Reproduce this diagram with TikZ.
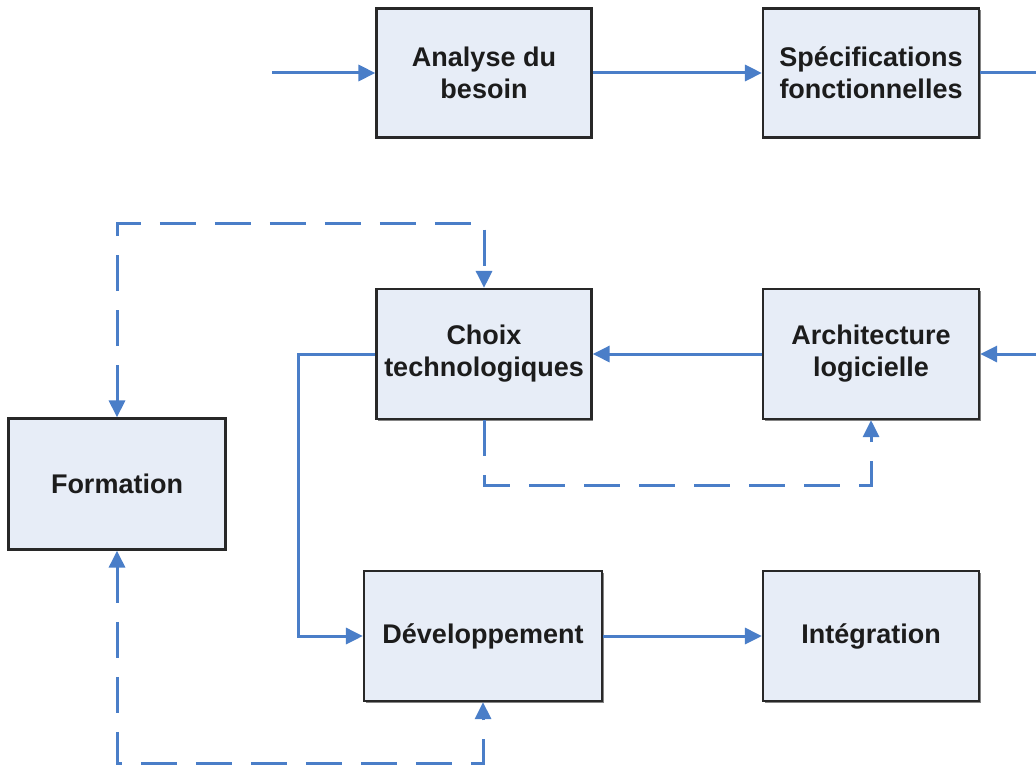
\documentclass[tikz,border=0pt]{standalone}
\usepackage{fontspec}
\setmainfont{Liberation Sans}
\usetikzlibrary{arrows.meta,shadows}
\definecolor{flow}{RGB}{74,126,200}
\definecolor{boxfill}{RGB}{231,237,247}
\definecolor{boxline}{RGB}{40,40,40}
\definecolor{txt}{RGB}{28,28,28}

\begin{document}
\begin{tikzpicture}[x=1pt,y=-1pt,
  stage/.style={draw=boxline, line width=2.2pt, fill=boxfill,
    minimum width=215pt, minimum height=129pt, inner sep=0pt,
    align=center, text=txt, font=\bfseries\fontsize{27}{32}\selectfont,
    drop shadow={shadow xshift=1.6pt, shadow yshift=-1.6pt, fill=black!60, opacity=.8}},
  tip/.tip={Triangle[length=17pt,width=16pt]},
  flowline/.style={draw=flow, line width=3pt, -tip},
  backline/.style={draw=flow, line width=3pt, dash pattern=on 36pt off 19pt, tip-tip},
  oneback/.style={draw=flow, line width=3pt, dash pattern=on 36pt off 19pt, -tip}
]
\useasboundingbox (0,0) rectangle (1036,765);

% stages
\node[stage] (analyse) at (484,73) {Analyse du\\besoin};
\node[stage, minimum width=216pt] (specs) at (871,73) {Spécifications\\fonctionnelles};
\node[stage, minimum height=130pt] (choix) at (484,354) {Choix\\technologiques};
\node[stage, minimum width=216pt, minimum height=130pt] (archi) at (871,354) {Architecture\\logicielle};
\node[stage, minimum width=217pt, minimum height=131pt] (formation) at (117,484) {Formation};
\node[stage, minimum width=238pt, minimum height=130pt] (dev) at (483,636) {Développement};
\node[stage, minimum width=216pt, minimum height=130pt] (integ) at (871,636) {Intégration};

% loose ends entering and leaving the chain
\coordinate (entree) at (272,73);
\coordinate (sortie) at (1036,73);
\coordinate (retour) at (1036,354);

% main flow
\draw[flowline] (entree) -- (analyse);
\draw[flowline] (analyse) -- (specs);
\draw[draw=flow, line width=3pt] (specs) -- (sortie);
\draw[flowline] (retour) -- (archi);
\draw[flowline] (archi) -- (choix);
\draw[flowline] (choix.west) -| ([xshift=-64pt]dev.west) -- (dev.west);
\draw[flowline] (dev) -- (integ);

% training and feedback links
\draw[backline] (formation.north) |- ([yshift=64pt]choix.north) -- (choix.north);
\draw[backline] (formation.south) |- ([yshift=-61pt]dev.south) -- (dev.south);
\draw[oneback] (choix.south) |- ([yshift=-65pt]archi.south) -- (archi.south);
\end{tikzpicture}
\end{document}
